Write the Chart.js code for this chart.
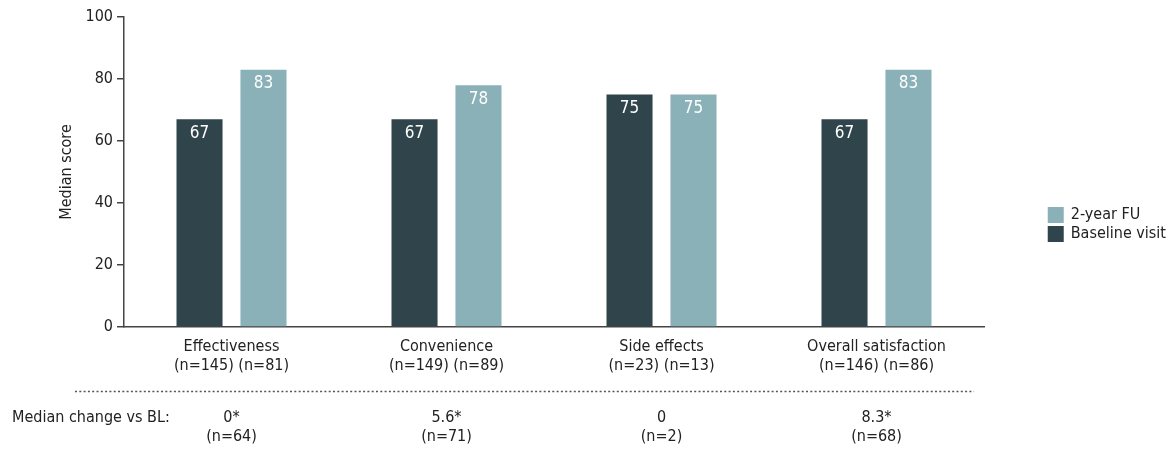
<!DOCTYPE html>
<html>
<head>
<meta charset="utf-8">
<script src="https://cdn.jsdelivr.net/npm/chart.js@4.4.1/dist/chart.umd.min.js"></script>
<style>
html,body{margin:0;padding:0;background:#fff;}
#wrap{width:1168px;height:450px;position:relative;}
</style>
</head>
<body>
<div id="wrap"><canvas id="chart"></canvas></div>
<script>
const categories = ["Effectiveness","Convenience","Side effects","Overall satisfaction"];
const nLabels = ["(n=145) (n=81)","(n=149) (n=89)","(n=23) (n=13)","(n=146) (n=86)"];
const baseline = [67,67,75,67];
const followUp = [83,78,75,83];
const changeValues = ["0*","5.6*","0","8.3*"];
const changeN = ["(n=64)","(n=71)","(n=2)","(n=68)"];
const yTicks = [0,20,40,60,80,100];

const FONT = "'DejaVu Sans Condensed','DejaVu Sans',sans-serif";
const DARK = "#30454b";
const LIGHT = "#8ab1b7";
const TEXT = "#222";

// value labels inside the bars, legend, bottom row
const extras = {
id:"extras",
afterDatasetsDraw(chart){
const ctx = chart.ctx;
ctx.save();
ctx.fillStyle = "#fff";
ctx.font = "17px " + FONT;
ctx.textAlign = "center";
ctx.textBaseline = "middle";
chart.data.datasets.forEach((ds,i)=>{
chart.getDatasetMeta(i).data.forEach((bar,j)=>{
ctx.fillText(String(ds.data[j]), bar.x, bar.y + 14);
});
});
ctx.restore();
},
afterDraw(chart){
const ctx = chart.ctx;
const x = chart.scales.x;
ctx.save();
// legend (2-year FU on top), text right edge at 1166
const items = [[LIGHT,"2-year FU"],[DARK,"Baseline visit"]];
ctx.font = "16px " + FONT;
ctx.textBaseline = "middle";
ctx.textAlign = "left";
const tw = Math.max(...items.map(it=>ctx.measureText(it[1]).width));
const tx = Math.min(1080, 1166 - tw);
items.forEach((it,i)=>{
const y = 215 + i*19;
ctx.fillStyle = it[0];
ctx.fillRect(tx - 23, y-8, 16, 16);
ctx.fillStyle = TEXT;
ctx.fillText(it[1], tx, y);
});
// dotted separator
ctx.strokeStyle = "#555";
ctx.lineWidth = 1.5;
ctx.setLineDash([2,2.3]);
ctx.beginPath();
ctx.moveTo(75,391.5);
ctx.lineTo(974,391.5);
ctx.stroke();
ctx.setLineDash([]);
// median change row
ctx.fillStyle = TEXT;
ctx.fillText("Median change vs BL:", 12, 418);
ctx.textAlign = "center";
categories.forEach((c,i)=>{
const cx = x.getPixelForValue(i);
ctx.fillText(changeValues[i], cx, 418);
ctx.fillText(changeN[i], cx, 437);
});
ctx.restore();
}
};

new Chart(document.getElementById("chart"),{
type:"bar",
data:{
labels:categories.map((c,i)=>[c,nLabels[i]]),
datasets:[
{label:"Baseline visit",data:baseline,backgroundColor:DARK},
{label:"2-year FU",data:followUp,backgroundColor:LIGHT}
]
},
options:{
responsive:true,
maintainAspectRatio:false,
animation:false,
layout:{padding:{top:17,left:53,right:184,bottom:0}},
datasets:{bar:{categoryPercentage:0.595,barPercentage:0.72}},
plugins:{legend:{display:false},tooltip:{enabled:false}},
scales:{
x:{
afterFit(s){s.height=123;},
grid:{display:false},
border:{color:"#444",width:1.5},
ticks:{color:TEXT,font:{family:FONT,size:16,lineHeight:1.2},padding:2,maxRotation:0,autoSkip:false}
},
y:{
min:0,max:100,
afterFit(s){s.width=71;},
afterBuildTicks(s){s.ticks=yTicks.map(v=>({value:v}));},
grid:{drawOnChartArea:false,drawTicks:true,tickLength:7,color:"#444",lineWidth:1.5},
border:{color:"#444",width:1.5},
ticks:{color:TEXT,font:{family:FONT,size:16},padding:4},
title:{display:true,text:"Median score",color:TEXT,font:{family:FONT,size:16},padding:{top:4,bottom:4}}
}
}
},
plugins:[extras]
});
</script>
</body>
</html>
